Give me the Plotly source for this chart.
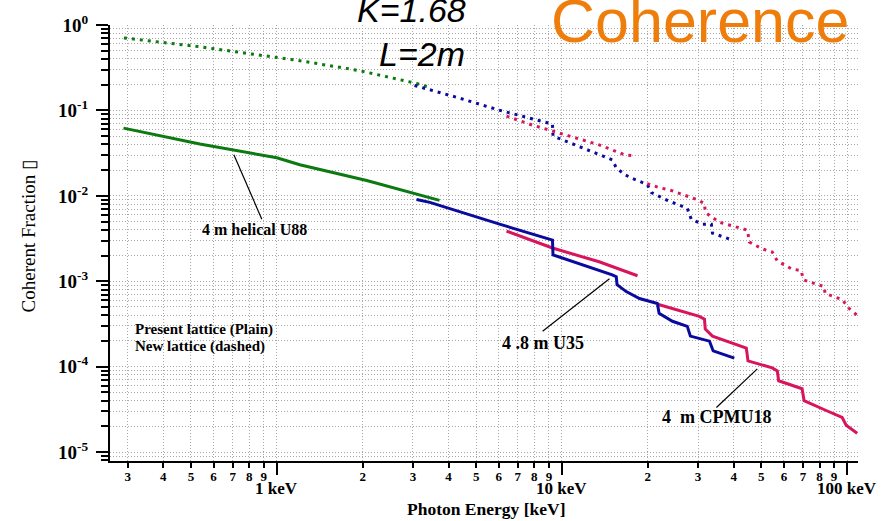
import numpy as np
import plotly.graph_objects as go

# ---- data: photon energy [keV] vs coherent fraction ----
# 4 m helical U88, present lattice (solid) and new lattice (dotted)
u88_now_e = [0.29, 0.537, 1.0, 1.204, 2.066, 3.72]
u88_now_f = [0.0621, 0.0405, 0.0279, 0.0231, 0.0151, 0.00885]
u88_new_e = [0.291, 0.537, 1.204, 1.953, 3.09, 3.44]
u88_new_f = [0.706, 0.556, 0.382, 0.292, 0.207, 0.186]

# 4.8 m U35
u35_now_e = [3.09, 3.44, 6.04, 9.26, 9.30, 13.5, 15.0, 15.5, 15.6, 16.8, 18.7, 21.6, 21.9,
             24.4, 27.5, 28.2, 32.9, 33.9, 36.5, 40.2]
u35_now_f = [0.00908, 0.00838, 0.00466, 0.00304, 0.00204, 0.00136, 0.00119, 0.00113, 0.000914,
             0.000757, 0.000628, 0.000550, 0.000421, 0.000340, 0.000297, 0.000228, 0.000199,
             0.000153, 0.000141, 0.000126]
u35_new_e = [3.04, 4.38, 6.04, 8.34, 9.26, 9.30, 13.5, 15.0, 15.5, 16.6, 17.7, 19.9, 20.6,
             23.4, 25.4, 27.5, 28.4, 31.1, 33.4, 33.7, 39.5]
u35_new_f = [0.196, 0.139, 0.1005, 0.0750, 0.0692, 0.0502, 0.0302, 0.0264, 0.0213, 0.0177,
             0.0159, 0.0136, 0.0109, 0.00885, 0.00795, 0.00714, 0.00532, 0.00466, 0.00466,
             0.00366, 0.00304]

# 4 m CPMU18 (two harmonic branches each)
cpmu_now1_e = [6.39, 9.26, 13.5, 18.4]
cpmu_now1_f = [0.00386, 0.00245, 0.00169, 0.00116]
cpmu_now2_e = [21.8, 30.3, 31.6, 31.8, 33.7, 39.5, 44.3, 44.9, 54.6, 56.9, 57.5, 69.5, 70.6,
               84.4, 96.0, 99.2, 108.4]
cpmu_now2_f = [0.000535, 0.000388, 0.000359, 0.000275, 0.000228, 0.000189, 0.000165, 0.000117,
               0.0000968, 0.0000894, 0.0000684, 0.0000552, 0.0000401, 0.0000307, 0.0000255,
               0.0000206, 0.0000166]
cpmu_new1_e = [6.39, 7.88, 9.26, 11.8, 13.5, 15.0, 16.6, 18.2]
cpmu_new1_f = [0.0857, 0.0673, 0.0574, 0.0451, 0.0395, 0.0345, 0.0302, 0.0294]
cpmu_new2_e = [19.9, 21.9, 24.2, 26.4, 29.6, 31.6, 31.8, 35.6, 41.2, 44.7, 45.4, 50.4, 54.6,
               56.9, 63.7, 69.0, 70.2, 78.6, 83.0, 83.7, 96.0, 101.6, 108.4]
cpmu_new2_f = [0.0139, 0.0125, 0.01155, 0.01038, 0.00908, 0.00816, 0.00641, 0.00491, 0.00430,
               0.00397, 0.00288, 0.00239, 0.00220, 0.00173, 0.00140, 0.00133, 0.00104,
               0.000914, 0.000866, 0.000718, 0.000612, 0.000481, 0.000400]

# leader lines from labels to curves
lead_u88_e, lead_u88_f = [0.707, 0.886], [0.0302, 0.00532]
lead_u35_e, lead_u35_f = [8.55, 14.67], [0.00026, 0.00107]
lead_cpmu_e, lead_cpmu_f = [34.8, 48.4], [0.0000333, 0.0000942]

# axis ticks
x_digits = [d * 10.0 ** p for p in (-1, 0, 1) for d in range(2, 10)]
x_digits = [v for v in x_digits if v >= 0.26]
x_digit_text = [str(int(round(v / 10 ** np.floor(np.log10(v) + 1e-9)))) for v in x_digits]
x_decades = [1, 10, 100]
x_decade_text = ["1 keV", "10 keV", "100 keV"]
y_decades = [10.0 ** p for p in range(0, -6, -1)]
y_decade_text = ["10<sup>%d</sup>" % p for p in range(0, -6, -1)]
y_minor = [d * 10.0 ** p for p in range(-6, 0) for d in range(2, 10)]
y_minor = [v for v in y_minor if v >= 10 ** -5.104]

GREEN = "#0B7A10"
BLUE = "#0A0A9E"
RED = "#D8155C"
DOTS = "3px,5px"
SERIF = "Liberation Serif"

fig = go.Figure()

def curve(x, y, color, dotted):
    fig.add_trace(go.Scatter(
        x=x, y=y, mode="lines", showlegend=False, hoverinfo="skip",
        line=dict(color=color, width=3, dash=DOTS if dotted else "solid"),
    ))

curve(u88_new_e, u88_new_f, GREEN, True)
curve(u35_new_e, u35_new_f, BLUE, True)
curve(cpmu_new1_e, cpmu_new1_f, RED, True)
curve(cpmu_new2_e, cpmu_new2_f, RED, True)
curve(u88_now_e, u88_now_f, GREEN, False)
curve(cpmu_now1_e, cpmu_now1_f, RED, False)
curve(cpmu_now2_e, cpmu_now2_f, RED, False)
curve(u35_now_e, u35_now_f, BLUE, False)

for lx, ly in ((lead_u88_e, lead_u88_f), (lead_u35_e, lead_u35_f), (lead_cpmu_e, lead_cpmu_f)):
    fig.add_trace(go.Scatter(x=lx, y=ly, mode="lines", showlegend=False, hoverinfo="skip",
                             line=dict(color="black", width=1.2)))

grid = dict(showgrid=True, gridcolor="#a8a8a8", gridwidth=1, griddash="1px,2px")

fig.update_xaxes(
    type="log", range=[-0.585, 2.038],
    tickmode="array", tickvals=x_digits, ticktext=x_digit_text,
    ticks="outside", ticklen=5, tickwidth=2, tickcolor="black",
    ticklabelstandoff=-3,
    tickfont=dict(family=SERIF, size=13, color="black", weight="bold"),
    showline=True, linecolor="black", linewidth=2, zeroline=False,
    minor=dict(tickmode="array", tickvals=x_decades, ticks="outside", ticklen=12,
               tickwidth=2, tickcolor="black", **grid),
    **grid,
)
fig.update_yaxes(
    type="log", range=[-5.104, 0],
    tickmode="array", tickvals=y_decades, ticktext=y_decade_text,
    ticks="outside", ticklen=12, tickwidth=2, tickcolor="black",
    ticklabelstandoff=4,
    tickfont=dict(family=SERIF, size=19, color="black", weight="bold"),
    showline=True, linecolor="black", linewidth=2, zeroline=False,
    minor=dict(tickmode="array", tickvals=y_minor, ticks="outside", ticklen=7,
               tickwidth=1.5, tickcolor="black", **grid),
    **grid,
)

def label(text, x, y, size=13, xanchor="left", bold=True, **kw):
    fig.add_annotation(text=text, x=x, y=y, xref="paper", yref="paper", showarrow=False,
                       xanchor=xanchor, yanchor="middle",
                       font=dict(family=SERIF, size=size, color="black",
                                 weight="bold" if bold else "normal"), **kw)

label("4 m helical U88", 0.1203, 0.532, size=16)
label("4 .8 m U35", 0.521, 0.2705, size=18)
label("4  m CPMU18", 0.735, 0.10, size=18)
label("Present lattice (Plain)", 0.0307, 0.302, size=15)
label("New lattice (dashed)", 0.0307, 0.2636, size=15)
label("Coherent Fraction ▯", -0.1096, 0.515, size=19, xanchor="center", bold=False, textangle=-90)
label("Photon Energy [keV]", 0.503, -0.111, size=17.5, xanchor="center")

for v, t in zip(x_decades, x_decade_text):
    fig.add_annotation(text=t, x=np.log10(v), y=-0.063, xref="x", yref="paper", showarrow=False,
                       xanchor="center", yanchor="middle",
                       font=dict(family=SERIF, size=17, color="black", weight="bold"))

fig.add_annotation(text="<i>K=1.68</i>", x=(411 - 110) / 748, y=(461 - 6) / 440,
                   xref="paper", yref="paper", showarrow=False, xanchor="center", yanchor="middle",
                   font=dict(family="Liberation Sans", size=34, color="black"))
fig.add_annotation(text="<i>L=2m</i>", x=(422 - 110) / 748, y=(461 - 50) / 440,
                   xref="paper", yref="paper", showarrow=False, xanchor="center", yanchor="middle",
                   font=dict(family="Liberation Sans", size=34, color="black"))
fig.add_annotation(text="Coherence", x=(700 - 110) / 748, y=(461 - 17) / 440,
                   xref="paper", yref="paper", showarrow=False, xanchor="center", yanchor="middle",
                   font=dict(family="Liberation Sans", size=61, color="#EF7D0B"))

fig.update_layout(
    width=894, height=521,
    margin=dict(l=110, r=36, t=21, b=60),
    paper_bgcolor="white", plot_bgcolor="white",
    showlegend=False,
)

fig.write_html("out.html")
